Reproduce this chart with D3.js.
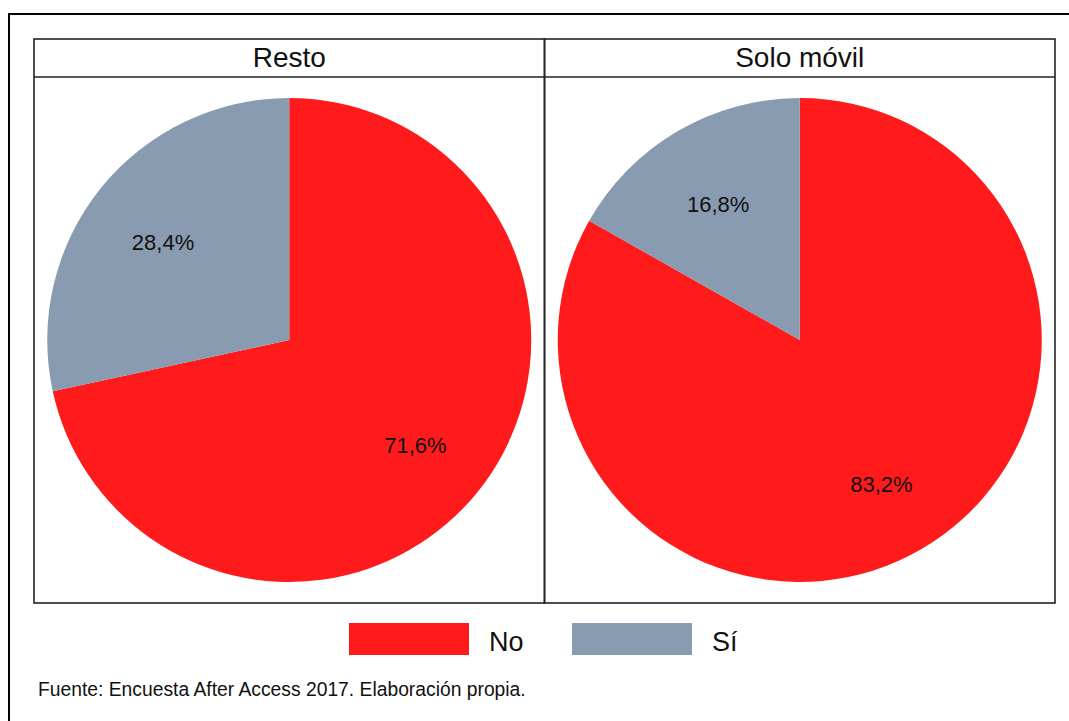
<!DOCTYPE html>
<html>
<head>
<meta charset="utf-8">
<script src="https://cdn.jsdelivr.net/npm/d3@7"></script>
<style>
  body { margin: 0; background: #fff; }
  text { font-family: "Liberation Sans", Arial, sans-serif; fill: #111; }
</style>
</head>
<body>
<div id="chart"></div>
<script>
// data
const panels = ["Resto", "Solo móvil"];
const categories = ["No", "Sí"];
const resto = [71.6, 28.4];
const soloMovil = [83.2, 16.8];
const pctLabels = [["71,6%", "28,4%"], ["83,2%", "16,8%"]];
const source = "Fuente: Encuesta After Access 2017. Elaboración propia.";

const width = 1069, height = 721;
const box = {left: 34, right: 1055, top: 39, header: 77, bottom: 603};

const svg = d3.select("#chart")
    .append("svg")
    .attr("width", width)
    .attr("height", height);

// outer frame (only top and left show in the crop)
svg.append("path")
    .attr("d", `M9,${height} V14 H${width}`)
    .attr("fill", "none")
    .attr("stroke", "#000")
    .attr("stroke-width", 2);

const color = d3.scaleOrdinal()
    .domain(categories)
    .range(["#ff1b1b", "#899bb0"]);

const x = d3.scaleBand()
    .domain(panels)
    .range([box.left, box.right]);

const radius = 242;
const cy = (box.header + box.bottom) / 2;

const pie = d3.pie().sort(null).value((d) => d.value);
const arc = d3.arc().innerRadius(0).outerRadius(radius);
// labels sit at about 2/3 of the radius
const labelArc = d3.arc().innerRadius(radius * 0.67).outerRadius(radius * 0.67);

const series = [resto, soloMovil];

panels.forEach((name, i) => {
    const x0 = x(name);
    const cx = x0 + x.bandwidth() / 2;
    const g = svg.append("g");

    const data = categories.map((c, j) => ({cat: c, value: series[i][j], label: pctLabels[i][j]}));

    const slices = g.append("g")
        .attr("transform", `translate(${cx},${cy})`);

    slices.selectAll("path")
        .data(pie(data))
        .enter()
        .append("path")
        .attr("d", arc)
        .attr("fill", (d) => color(d.data.cat));

    slices.selectAll("text")
        .data(pie(data))
        .enter()
        .append("text")
        .attr("transform", (d) => "translate(" + labelArc.centroid(d) + ")")
        .attr("text-anchor", "middle")
        .attr("dy", "0.53em")
        .style("font-size", "22px")
        .text((d) => d.data.label);

    // panel frame and header strip
    g.append("rect")
        .attr("x", x0)
        .attr("y", box.top)
        .attr("width", x.bandwidth())
        .attr("height", box.bottom - box.top)
        .attr("fill", "none")
        .attr("stroke", "#222")
        .attr("stroke-width", 1.6);

    g.append("line")
        .attr("x1", x0).attr("x2", x0 + x.bandwidth())
        .attr("y1", box.header).attr("y2", box.header)
        .attr("stroke", "#222")
        .attr("stroke-width", 1.6);

    g.append("text")
        .attr("x", cx)
        .attr("y", 67)
        .attr("text-anchor", "middle")
        .style("font-size", "28px")
        .text(name);
});

// legend
const legendX = d3.scaleOrdinal()
    .domain(categories)
    .range([349, 572]);

const legend = svg.append("g");
legend.selectAll("rect")
    .data(categories)
    .enter()
    .append("rect")
    .attr("x", (d) => legendX(d))
    .attr("y", 623)
    .attr("width", 120)
    .attr("height", 32)
    .attr("fill", (d) => color(d));

legend.selectAll("text")
    .data(categories)
    .enter()
    .append("text")
    .attr("x", (d) => legendX(d) + 140)
    .attr("y", 651)
    .style("font-size", "27px")
    .text((d) => d);

svg.append("text")
    .attr("x", 38)
    .attr("y", 696)
    .style("font-size", "19.3px")
    .text(source);
</script>
</body>
</html>
